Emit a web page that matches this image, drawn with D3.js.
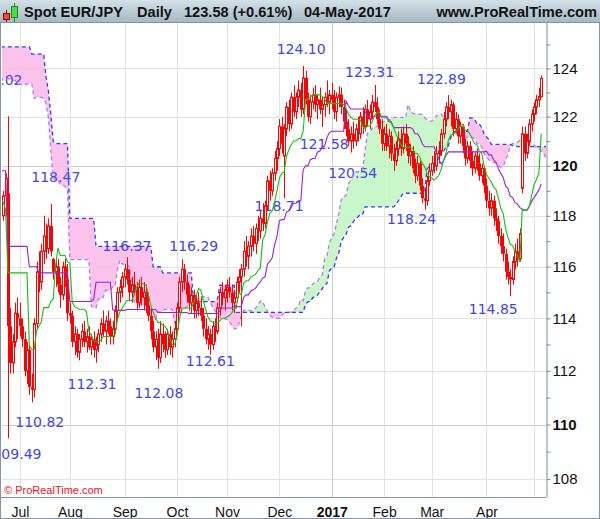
<!DOCTYPE html>
<html>
<head>
<meta charset="utf-8">
<script src="https://cdnjs.cloudflare.com/ajax/libs/d3/7.8.5/d3.min.js"></script>
<style>
  body { margin: 0; background: #fff; }
  svg { display: block; }
</style>
</head>
<body>
<svg id="chart" width="600" height="519"></svg>
<script>
// ---- data -------------------------------------------------------------
// sessions are counted from 1-Jul-2016 (= 0); first drawn candle is 22-Jun-2016 (= -7)
const firstPre = -85;   // first hidden session used only for the Ichimoku lines
const firstBar = -7;

// hidden sessions -85 .. -8 (Mar .. 21-Jun-2016), highs and lows only
const preHigh = [125.2,125.6,125.3,124.9,125.5,125.4,125.3,125.0,124.6,124.3,
  125.1,127.2,128.5,127.8,127.4,127.0,126.6,127.2,127.9,126.2,
  125.4,124.8,124.1,123.6,123.2,123.4,123.8,124.2,124.6,124.3,
  124.7,125.1,125.4,125.0,125.3,125.6,125.8,125.7,126.0,126.3,
  122.8,122.6,122.9,123.2,123.6,123.9,124.0,123.8,124.0,123.8,
  124.0,123.7,123.5,123.9,123.6,123.5,123.2,123.4,122.9,123.3,
  123.7,123.9,124.0,124.1,122.4,122.1,122.2,122.5,121.9,121.8,
  121.6,121.0,120.0,118.4,117.0,117.4,118.1,118.6];
const preLow = [124.0,124.4,124.2,123.6,123.2,124.3,124.4,124.0,123.4,123.0,
  123.9,125.5,126.6,126.4,126.2,125.8,125.4,125.9,126.3,124.9,
  124.1,123.5,122.9,122.4,121.8,122.1,122.7,123.1,123.5,123.0,
  123.4,123.9,124.2,123.8,124.0,124.3,124.6,124.7,125.0,122.5,
  121.3,121.5,121.7,122.2,122.8,122.9,123.0,122.9,123.1,122.9,
  123.0,122.8,122.7,122.9,122.8,122.6,122.4,122.5,121.8,122.1,
  122.7,123.0,123.1,122.6,121.8,121.5,121.5,121.7,121.5,121.4,
  121.0,119.8,117.9,115.7,115.5,116.0,116.8,117.6];

// drawn sessions -7 .. 219 (22-Jun-2016 .. 04-May-2017)
const openP = [118.0,118.8,118.9,113.7,112.3,113.1,114.2,114.0,113.7,113.2,
  112.0,112.8,111.4,111.3,113.8,115.8,115.4,116.6,117.2,116.7,
  117.6,116.3,115.8,116.0,115.3,114.9,116.0,115.5,114.2,114.1,
  113.1,113.4,112.7,113.2,113.5,113.1,113.3,112.9,113.2,112.8,
  113.0,113.4,113.8,113.5,113.9,113.7,113.3,113.6,114.3,115.0,
  115.2,115.6,115.9,115.5,115.0,115.3,115.1,114.6,115.2,114.8,
  115.0,114.5,114.1,113.5,112.9,113.2,112.5,113.4,113.0,112.8,
  113.4,112.9,113.2,113.6,114.4,115.4,115.9,115.4,114.9,114.6,
  114.9,114.3,114.6,114.4,114.1,113.6,113.2,113.4,113.0,113.7,
  113.5,114.4,115.0,114.8,115.1,115.2,115.0,114.6,114.8,115.4,
  115.6,115.9,116.6,116.4,116.8,117.2,116.9,117.5,117.4,117.9,
  117.7,118.4,119.4,119.0,119.7,120.3,120.7,121.6,120.4,121.5,
  122.4,121.7,122.8,122.2,122.8,123.1,122.3,123.6,122.7,122.0,
  122.6,122.9,122.5,122.7,122.3,122.5,122.8,122.6,122.9,122.7,
  122.2,122.8,122.9,122.4,121.8,121.5,121.0,121.3,121.0,121.5,
  121.3,122.0,121.6,122.3,121.9,122.2,122.6,122.4,121.9,121.5,
  120.9,121.3,120.8,121.2,120.5,120.2,120.7,121.1,120.7,121.3,
  120.9,120.4,120.6,119.9,119.6,120.1,119.2,118.7,118.6,119.4,
  119.8,120.1,120.0,120.5,120.6,121.3,121.9,122.4,122.2,122.5,
  121.5,121.9,121.2,121.6,120.8,120.3,120.8,120.2,119.9,120.4,
  120.1,119.6,119.9,119.2,118.6,118.3,118.6,117.9,117.8,117.2,
  116.8,116.5,115.8,115.6,115.5,116.2,116.6,116.3,119.1,121.3,
  120.5,121.0,121.7,122.1,122.4,122.7,122.83];
const highP = [119.0,119.7,122.02,114.4,113.4,114.6,114.8,114.6,114.0,113.5,
  113.1,113.0,111.9,114.0,116.2,116.6,116.9,118.0,117.7,117.9,
  118.47,116.35,116.3,116.3,115.6,116.2,116.3,116.1,114.6,114.3,
  113.7,113.6,113.4,113.8,113.9,113.6,113.7,113.4,113.5,113.3,
  113.6,114.0,114.3,114.1,114.3,114.0,113.9,114.5,115.2,115.5,
  115.8,116.1,116.37,115.9,115.6,115.8,115.4,115.5,115.6,115.4,
  115.3,115.0,114.4,113.9,113.5,113.6,113.9,113.8,113.5,113.6,
  113.7,113.5,113.9,114.6,115.6,116.29,116.1,115.7,115.3,115.2,
  115.1,114.9,115.0,114.8,114.4,114.0,113.7,113.6,113.9,114.0,
  114.6,115.2,115.4,115.3,115.5,115.6,115.3,115.1,115.6,115.9,
  116.1,117.0,117.2,117.0,117.5,117.6,117.7,118.0,118.2,118.5,
  118.6,119.6,119.8,119.9,120.6,121.0,121.9,122.0,121.7,122.6,
  122.7,123.0,123.3,123.0,123.5,123.4,124.10,123.9,123.0,122.9,
  123.2,123.3,122.9,123.2,122.8,123.0,123.5,123.1,123.4,123.1,
  123.0,123.25,123.2,122.7,122.3,121.9,121.6,121.8,121.7,122.0,
  122.2,122.4,122.5,122.7,122.5,122.9,123.31,122.8,122.3,121.9,
  121.6,121.7,121.5,121.4,120.9,121.0,121.4,121.5,121.6,121.7,
  121.2,120.9,120.8,120.3,120.4,120.2,119.5,119.1,119.6,120.1,
  120.4,120.6,120.8,121.0,121.5,122.2,122.6,122.89,122.7,122.6,
  122.2,122.1,121.8,121.7,121.1,121.0,121.0,120.6,120.6,120.7,
  120.5,120.1,120.0,119.5,119.0,118.9,118.8,118.3,118.0,117.5,
  117.3,116.7,116.2,115.9,116.4,116.9,117.1,117.5,121.6,121.6,
  121.3,121.9,122.3,122.6,122.9,123.2,123.7];
const lowP = [117.8,118.0,109.49,111.9,111.9,112.9,113.2,113.3,112.9,111.8,
  111.5,111.1,110.82,111.0,113.6,115.0,115.1,116.1,116.3,116.5,
  116.4,115.5,115.2,115.0,114.4,114.7,115.2,113.9,113.8,112.9,
  112.6,112.5,112.4,112.9,112.9,112.7,112.8,112.6,112.5,112.31,
  112.7,113.1,113.3,113.0,113.4,113.0,113.0,113.4,114.0,114.6,
  114.8,115.2,115.3,114.7,114.6,114.9,114.3,114.4,114.5,114.3,
  114.2,113.9,113.2,112.7,112.4,112.08,112.3,112.7,112.5,112.6,
  112.6,112.5,112.9,113.4,114.2,115.0,115.1,114.6,114.3,114.2,
  114.0,114.0,114.1,113.9,113.3,113.0,112.8,112.61,112.8,113.1,
  113.4,114.1,114.5,114.3,114.6,114.8,114.3,114.2,114.6,115.0,
  113.7,115.6,116.0,115.9,116.4,116.6,116.5,117.0,117.1,117.4,
  117.5,118.2,118.6,118.8,119.4,119.8,120.4,120.5,118.71,121.2,
  121.4,121.5,122.0,121.9,122.4,122.0,122.1,122.5,121.8,121.7,
  122.3,122.2,121.9,122.1,121.58,122.0,122.4,122.1,122.3,121.9,
  121.8,122.4,122.1,121.5,121.2,120.8,120.54,120.7,120.8,121.0,
  121.1,121.3,121.4,121.6,121.5,121.9,122.2,121.7,121.3,120.6,
  120.6,120.6,120.3,120.2,119.8,120.0,120.4,120.4,120.5,120.6,
  120.1,120.0,119.7,119.3,119.4,119.0,118.5,118.24,118.4,119.2,
  119.6,119.7,119.8,120.1,120.4,121.1,121.6,121.9,121.6,121.2,
  121.3,120.9,120.9,120.5,120.0,120.1,119.9,119.6,119.7,119.8,
  119.4,119.3,118.9,118.3,118.0,118.0,117.6,117.4,116.9,116.5,
  116.2,115.5,115.3,114.85,115.3,115.9,116.0,116.2,118.9,120.2,
  120.3,120.8,121.4,121.8,122.1,122.4,122.8];
const closeP = [118.8,119.5,113.7,112.3,113.1,114.2,114.0,113.7,113.2,112.0,
  112.8,111.4,111.3,113.8,115.8,115.4,116.6,117.2,116.7,117.6,
  116.6,115.8,116.0,115.3,114.9,116.0,115.5,114.2,114.1,113.1,
  113.4,112.7,113.2,113.5,113.1,113.3,112.9,113.2,112.8,113.0,
  113.4,113.8,113.5,113.9,113.7,113.3,113.6,114.3,115.0,115.2,
  115.6,115.9,115.5,115.0,115.3,115.1,114.6,115.2,114.8,115.0,
  114.5,114.1,113.5,112.9,113.2,112.5,113.4,113.0,112.8,113.4,
  112.9,113.2,113.6,114.4,115.4,115.9,115.4,114.9,114.6,114.9,
  114.3,114.6,114.4,114.1,113.6,113.2,113.4,113.0,113.7,113.5,
  114.4,115.0,114.8,115.1,115.2,115.0,114.6,114.8,115.4,115.6,
  115.9,116.6,116.4,116.8,117.2,116.9,117.5,117.4,117.9,117.7,
  118.4,119.4,119.0,119.7,120.3,120.7,121.6,120.9,121.5,122.4,
  121.7,122.8,122.2,122.8,123.1,122.3,123.6,122.7,122.0,122.6,
  122.9,122.5,122.7,122.3,122.5,122.8,122.6,122.9,122.7,122.2,
  122.8,122.9,122.4,121.8,121.5,121.0,121.3,121.0,121.5,121.3,
  122.0,121.6,122.3,121.9,122.2,122.6,122.4,121.9,121.5,120.9,
  121.3,120.8,121.2,120.5,120.2,120.7,121.1,120.7,121.3,120.9,
  120.4,120.6,119.9,119.6,120.1,119.2,118.7,118.6,119.4,119.8,
  120.1,120.0,120.5,120.6,121.3,121.9,122.4,122.2,122.5,121.5,
  121.9,121.2,121.6,120.8,120.3,120.8,120.2,119.9,120.4,120.1,
  119.6,119.9,119.2,118.6,118.3,118.6,117.9,117.8,117.2,116.8,
  116.5,115.8,115.6,115.5,116.2,116.6,116.3,117.3,121.3,120.5,
  121.0,121.7,122.1,122.4,122.7,122.83,123.58];

// month starts (session number) and their labels
const monthIdx = [0, 21, 44, 66, 87, 109, 131, 153, 173, 196, 216];
const monthLabel = ["Jul", "Aug", "Sep", "Oct", "Nov", "Dec", "2017", "Feb", "Mar", "Apr", ""];
const priceTicks = d3.range(108, 126);

// marked highs / lows: session and value
const hlBar = [-5, -5, 5, 13, 32, 45, 58, 68, 80, 111, 119, 127, 139, 149, 180, 170, 206];
const hlValue = [122.02, 109.49, 110.82, 118.47, 112.31, 116.37, 112.08, 116.29, 112.61,
  118.71, 124.10, 121.58, 120.54, 123.31, 122.89, 118.24, 114.85];

// ---- Ichimoku -----------------------------------------------------------
const allHigh = preHigh.concat(highP);
const allLow = preLow.concat(lowP);
const at = i => i - firstPre;

function midRange(i, n) {
  let hi = -Infinity, lo = Infinity;
  for (let k = at(i) - n + 1; k <= at(i); k++) {
    if (allHigh[k] > hi) hi = allHigh[k];
    if (allLow[k] < lo) lo = allLow[k];
  }
  return (hi + lo) / 2;
}

const lastBar = firstBar + closeP.length - 1;
const lineIdx = d3.range(-8, lastBar + 1);
const tenkan = lineIdx.map(i => [i, midRange(i, 9)]);
const kijun = lineIdx.map(i => [i, midRange(i, 26)]);
const cloud = d3.range(-8, lastBar + 27).map(i => {
  const j = i - 26;
  return { i: i, a: (midRange(j, 9) + midRange(j, 26)) / 2, b: midRange(j, 52) };
});

const bars = closeP.map((c, n) => ({
  i: firstBar + n, o: openP[n], h: highP[n], l: lowP[n], c: c
}));

// ---- drawing ------------------------------------------------------------
const W = 600, H = 519;
const plot = { left: 2, right: 546, top: 22, bottom: 497 };
const svg = d3.select("#chart");

const x = d3.scaleLinear().domain([-7.5, 221]).range([plot.left, plot.right]);
const y = d3.scaleLog().domain([107.35, 125.95]).range([plot.bottom, plot.top]);
const px = v => Math.round(x(v)) + 0.5;

const defs = svg.append("defs");
const grad = defs.append("linearGradient").attr("id", "hdr")
  .attr("x1", 0).attr("y1", 0).attr("x2", 0).attr("y2", 1);
grad.append("stop").attr("offset", "0%").attr("stop-color", "#d4e1e8");
grad.append("stop").attr("offset", "100%").attr("stop-color", "#a6b9c4");

defs.append("clipPath").attr("id", "plotClip").append("rect")
  .attr("x", plot.left).attr("y", plot.top)
  .attr("width", plot.right - plot.left).attr("height", plot.bottom - plot.top);
defs.append("clipPath").attr("id", "aboveB").append("path")
  .attr("d", d3.area().x(d => x(d.i)).y0(0).y1(d => y(d.b))(cloud));
defs.append("clipPath").attr("id", "belowB").append("path")
  .attr("d", d3.area().x(d => x(d.i)).y0(H).y1(d => y(d.b))(cloud));

svg.append("rect").attr("width", W).attr("height", H).attr("fill", "#fff");

const g = svg.append("g").attr("clip-path", "url(#plotClip)");

// grid
g.selectAll(".hgrid").data(priceTicks.filter(v => v % 2 === 0)).join("line")
  .attr("x1", plot.left).attr("x2", plot.right)
  .attr("y1", v => Math.round(y(v)) + 0.5).attr("y2", v => Math.round(y(v)) + 0.5)
  .attr("stroke", v => (v % 10 === 0 ? "#cfcfcf" : "#e3e3e3"));
g.selectAll(".vgrid").data(monthIdx).join("line")
  .attr("x1", px).attr("x2", px)
  .attr("y1", plot.top).attr("y2", plot.bottom)
  .attr("stroke", (d, k) => (monthLabel[k] === "2017" ? "#cfcfcf" : "#e3e3e3"));

// cloud
const between = d3.area().x(d => x(d.i)).y0(d => y(d.b)).y1(d => y(d.a))(cloud);
g.append("g").attr("clip-path", "url(#aboveB)")
  .append("path").attr("d", between).attr("fill", "#c4f6c4").attr("opacity", 0.9);
g.append("g").attr("clip-path", "url(#belowB)")
  .append("path").attr("d", between).attr("fill", "#fbbde9").attr("opacity", 0.9);

// high / low labels
const labelNudge = [[-10, -36], [9, 16], [8, 20], [5, -27], [-4, 21], [0, -11], [1, 24],
  [12, -13], [0, 6], [-5, 8], [-2, -17], [2, 17], [2, 20], [-5, -13], [-7, -16],
  [-13, 9], [-17, 13]];
g.selectAll(".hl").data(hlValue).join("text")
  .attr("x", (v, k) => x(hlBar[k]) + labelNudge[k][0])
  .attr("y", (v, k) => y(v) + labelNudge[k][1])
  .attr("dy", "0.36em")
  .attr("text-anchor", "middle")
  .attr("font-family", "DejaVu Sans, sans-serif")
  .attr("font-size", 14)
  .attr("fill", "#4545df")
  .text(v => v.toFixed(2));

// senkou spans
const line = d3.line().x(d => x(d[0])).y(d => y(d[1]));
g.append("path").attr("d", line(cloud.map(d => [d.i, d.a])))
  .attr("fill", "none").attr("stroke", "#b37cf0").attr("stroke-width", 1.3)
  .attr("stroke-dasharray", "4,3");
g.append("path").attr("d", line(cloud.map(d => [d.i, d.b])))
  .attr("fill", "none").attr("stroke", "#3a3af2").attr("stroke-width", 1.3)
  .attr("stroke-dasharray", "4,3");

// candles
const red = "#ff0000";
const cg = g.append("g");
cg.selectAll(".wick").data(bars).join("line")
  .attr("x1", d => px(d.i)).attr("x2", d => px(d.i))
  .attr("y1", d => y(Math.max(d.h, d.o, d.c))).attr("y2", d => y(Math.min(d.l, d.o, d.c)))
  .attr("stroke", red);
cg.selectAll(".body").data(bars).join("rect")
  .attr("x", d => (d.c >= d.o ? Math.round(x(d.i)) - 0.5 : Math.round(x(d.i)) - 1))
  .attr("width", d => (d.c >= d.o ? 2 : 3))
  .attr("y", d => y(Math.max(d.o, d.c)))
  .attr("height", d => Math.max(1, y(Math.min(d.o, d.c)) - y(Math.max(d.o, d.c))))
  .attr("fill", d => (d.c >= d.o ? "#fff" : red))
  .attr("stroke", d => (d.c >= d.o ? red : "none"));

// tenkan / kijun
g.append("path").attr("d", line(kijun))
  .attr("fill", "none").attr("stroke", "#9b22cf").attr("stroke-width", 1.1);
g.append("path").attr("d", line(tenkan))
  .attr("fill", "none").attr("stroke", "#12c012").attr("stroke-width", 1.1);

// price axis
const yAxis = d3.axisRight(y).tickValues(priceTicks).tickSize(4).tickSizeOuter(0)
  .tickPadding(2).tickFormat(v => (v % 2 === 0 ? v : ""));
const ya = svg.append("g").attr("transform", `translate(${plot.right + 0.5},0)`).call(yAxis);
ya.select(".domain").attr("stroke", "#7d8d9a");
ya.selectAll(".tick line").attr("stroke", "#7d8d9a");
ya.selectAll(".tick text")
  .attr("font-family", "Liberation Sans, Arial, sans-serif")
  .attr("font-size", 15)
  .attr("fill", "#111")
  .attr("font-weight", v => (v % 10 === 0 ? "bold" : "normal"));

// time axis
const xAxis = d3.axisBottom(x).tickValues(monthIdx).tickSize(0).tickPadding(10)
  .tickFormat((d, k) => monthLabel[k]);
const xa = svg.append("g").attr("transform", `translate(0,${plot.bottom})`).call(xAxis);
xa.select(".domain").remove();
xa.selectAll(".tick text")
  .attr("font-family", "Liberation Sans, Arial, sans-serif")
  .attr("font-size", 14)
  .attr("fill", "#111")
  .attr("font-weight", (d, k) => (monthLabel[k] === "2017" ? "bold" : "normal"));

// frame
svg.append("line").attr("x1", 0).attr("x2", plot.right).attr("y1", plot.bottom + 0.5)
  .attr("y2", plot.bottom + 0.5).attr("stroke", "#8796a3");
svg.append("line").attr("x1", 0.5).attr("x2", 0.5).attr("y1", plot.top).attr("y2", H)
  .attr("stroke", "#6f7f8c");
svg.append("rect").attr("x", 0.5).attr("y", 0.5).attr("width", W - 1).attr("height", H - 1)
  .attr("fill", "none").attr("stroke", "#8796a3");

svg.append("text").attr("x", 4).attr("y", 494)
  .attr("font-family", "Liberation Sans, Arial, sans-serif").attr("font-size", 11)
  .attr("fill", "#e5141e").text("\u00a9 ProRealTime.com");

// header
svg.append("rect").attr("x", 0).attr("y", 0).attr("width", W).attr("height", plot.top)
  .attr("fill", "url(#hdr)");
svg.append("line").attr("x1", 0).attr("x2", W).attr("y1", plot.top + 0.5).attr("y2", plot.top + 0.5)
  .attr("stroke", "#7f92a0");
const icon = svg.append("g");
icon.append("line").attr("x1", 6.5).attr("x2", 6.5).attr("y1", 10).attr("y2", 22).attr("stroke", "#b00000");
icon.append("rect").attr("x", 3.5).attr("y", 13.5).attr("width", 6).attr("height", 6)
  .attr("fill", "#f04848").attr("stroke", "#a00000");
icon.append("line").attr("x1", 14.5).attr("x2", 14.5).attr("y1", 3).attr("y2", 22).attr("stroke", "#1c8a1c");
icon.append("rect").attr("x", 11.5).attr("y", 6.5).attr("width", 6).attr("height", 11)
  .attr("fill", "#44e044").attr("stroke", "#1c8a1c");

const hdrFont = "Liberation Sans, Arial, sans-serif";
[["Spot EUR/JPY", 24], ["Daily", 137], ["123.58 (+0.61%)", 184], ["04-May-2017", 304]]
  .forEach(([t, tx]) => {
    svg.append("text").attr("x", tx).attr("y", 17).attr("font-family", hdrFont)
      .attr("font-size", 14.6).attr("font-weight", "bold").attr("fill", "#111").text(t);
  });
svg.append("text").attr("x", 597).attr("y", 17).attr("text-anchor", "end")
  .attr("font-family", hdrFont).attr("font-size", 14.6).attr("font-weight", "bold")
  .attr("fill", "#111").text("www.ProRealTime.com");
</script>
</body>
</html>
